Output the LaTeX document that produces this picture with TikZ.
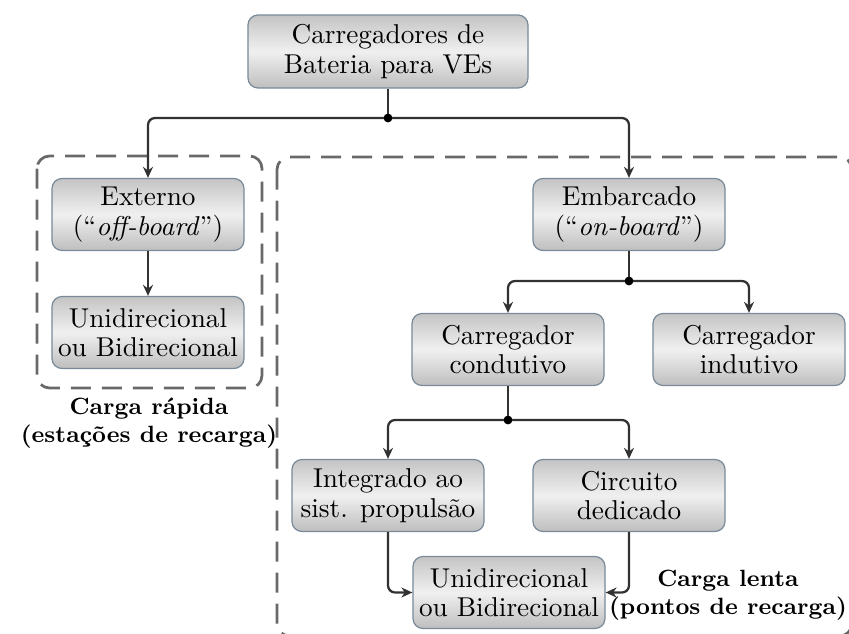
\documentclass[tikz,border=0pt]{standalone}
\usepackage{fontspec}
\usetikzlibrary{arrows.meta,positioning}
\definecolor{boxedge}{RGB}{122,138,153}
\definecolor{boxtop}{RGB}{196,196,196}
\definecolor{boxmid}{RGB}{240,240,240}
\definecolor{boxbot}{RGB}{190,190,190}
\definecolor{conncol}{RGB}{50,50,50}
\definecolor{dashcol}{RGB}{105,105,105}
\tikzset{
  cbox/.style={draw=boxedge, line width=0.5pt, rounded corners=4pt,
    top color=boxtop, bottom color=boxbot, middle color=boxmid,
    minimum width=76.8pt, minimum height=28.8pt, inner sep=0pt, align=center,
    font=\fontsize{10.9}{11.8}\selectfont},
  conn/.style={draw=conncol, line width=0.9pt, rounded corners=2.8pt,
    -{Stealth[length=4.4pt,width=4pt]}},
  plain/.style={draw=conncol, line width=0.9pt},
  jdot/.style={circle, fill=black, inner sep=0pt, minimum size=3.4pt},
  frame/.style={draw=dashcol, line width=1.1pt, dash pattern=on 8pt off 4.4pt, rounded corners=5pt},
  lbl/.style={align=center, font=\fontsize{9.4}{11.2}\selectfont\bfseries, inner sep=0pt}
}
\begin{document}
\begin{tikzpicture}[x=0.4pt,y=-0.4pt]
\clip (0,0) rectangle (849,634);
% frames
\draw[frame] (37,156) rectangle (262,388);
\draw[frame] (277,157) rectangle (852,636);
% nodes
\node[cbox, minimum width=112pt, minimum height=29.2pt] (top) at (388,51.5) {Carregadores de\\Bateria para VEs};
\node[cbox] (ext) at (148,214.5) {Externo\\(``\textit{off-board}'')};
\node[cbox] (uni1) at (148,332.5) {Unidirecional\\ou Bidirecional};
\node[cbox] (emb) at (629,214.5) {Embarcado\\(``\textit{on-board}'')};
\node[cbox] (cond) at (508,349.5) {Carregador\\condutivo};
\node[cbox] (ind) at (749,349.5) {Carregador\\indutivo};
\node[cbox] (integ) at (388,495.5) {Integrado ao\\sist. propulsão};
\node[cbox] (circ) at (629,495.5) {Circuito\\dedicado};
\node[cbox] (uni2) at (509,592.5) {Unidirecional\\ou Bidirecional};
\node[lbl] (lrap) at (149,423.5) {Carga rápida\\(estações de recarga)};
\node[lbl] (llen) at (728,595) {Carga lenta\\(pontos de recarga)};
% junctions
\node[jdot] (j1) at (388,118) {};
\node[jdot] (j2) at (629,281) {};
\node[jdot] (j3) at (508,420) {};
% connectors
\draw[plain] (top.south) -- (j1.center);
\draw[conn] (j1.center) -| (ext.north);
\draw[conn] (j1.center) -| (emb.north);
\draw[conn] (ext.south) -- (uni1.north);
\draw[plain] (emb.south) -- (j2.center);
\draw[conn] (j2.center) -| (cond.north);
\draw[conn] (j2.center) -| (ind.north);
\draw[plain] (cond.south) -- (j3.center);
\draw[conn] (j3.center) -| (integ.north);
\draw[conn] (j3.center) -| (circ.north);
\draw[conn] (integ.south) |- (uni2.west);
\draw[conn] (circ.south) |- (uni2.east);
\node[jdot] at (j1) {};
\node[jdot] at (j2) {};
\node[jdot] at (j3) {};
\end{tikzpicture}
\end{document}
